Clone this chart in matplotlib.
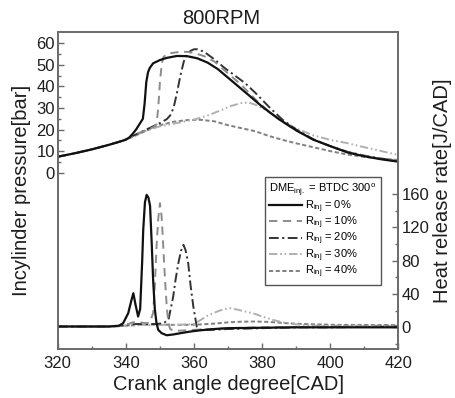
import matplotlib
matplotlib.use("Agg")
import matplotlib.pyplot as plt
from matplotlib.lines import Line2D
from matplotlib.ticker import FixedLocator

plt.rcParams['font.family'] = ['Liberation Sans', 'DejaVu Sans']
plt.rcParams['mathtext.fontset'] = 'custom'
plt.rcParams['mathtext.rm'] = 'Liberation Sans'
plt.rcParams['mathtext.it'] = 'Liberation Sans:italic'
plt.rcParams['lines.scale_dashes'] = False

# ---- in-cylinder pressure [bar] ----
cad_p0 = [320, 325, 330, 335, 338, 340, 341, 342, 343, 344, 345, 345.5, 346, 346.5, 347, 348, 350, 352, 355,
          358, 361, 364, 367, 370, 373, 376, 380, 385, 390, 395, 400, 405, 410, 415, 420]
p0 = [7.4, 9.0, 10.8, 12.9, 14.3, 15.3, 16.3, 18.0, 20.0, 22.5, 25.0, 32.0, 42.0, 46.5, 48.5, 50.7, 52.2, 53.2,
      54.1, 54.0, 53.0, 51.0, 48.0, 44.0, 40.0, 36.0, 30.6, 24.7, 19.6, 15.3, 12.3, 9.4, 7.6, 6.2, 5.1]

cad_p1 = [320, 325, 330, 335, 338, 340, 342, 344, 346, 348, 349, 349.5, 350, 350.5, 351, 352, 354, 356, 358,
          360, 363, 366, 370, 374, 378, 382, 386, 390, 395, 400, 405, 410, 415, 420]
p1 = [7.4, 9.0, 10.8, 12.9, 14.3, 15.4, 17.0, 18.5, 19.8, 21.0, 22.5, 30.0, 42.0, 50.0, 53.5, 55.0, 55.6, 56.0,
      56.0, 55.5, 54.0, 51.5, 46.0, 40.5, 34.0, 28.3, 23.6, 19.6, 15.3, 12.3, 9.6, 7.8, 6.4, 5.3]

cad_p2 = [320, 325, 330, 335, 338, 340, 342, 344, 346, 348, 350, 352, 353, 354, 355, 356, 357, 358, 359, 360,
          361, 363, 366, 369, 372, 375, 378, 382, 386, 390, 395, 400, 405, 410, 415, 420]
p2 = [7.4, 9.0, 10.8, 12.9, 14.3, 15.4, 17.0, 18.5, 20.0, 21.5, 23.0, 24.8, 26.5, 30.0, 37.0, 45.0, 51.5, 55.0,
      56.5, 57.2, 57.2, 56.0, 52.5, 48.5, 45.0, 41.5, 37.0, 30.5, 24.5, 20.0, 15.5, 12.3, 9.7, 7.9, 6.5, 5.4]

cad_p3 = [320, 325, 330, 335, 338, 340, 343, 346, 350, 355, 360, 364, 368, 371, 374, 376, 378, 380, 383, 386,
          390, 395, 400, 405, 410, 415, 420]
p3 = [7.4, 9.0, 10.8, 12.9, 14.3, 15.3, 17.5, 19.5, 21.5, 23.0, 24.6, 26.5, 29.0, 31.0, 32.3, 32.5, 31.5, 30.0,
      27.0, 23.8, 20.5, 17.3, 15.2, 13.7, 11.8, 10.0, 8.2]

cad_p4 = [320, 325, 330, 335, 338, 340, 343, 346, 350, 354, 358, 362, 366, 370, 374, 378, 382, 386, 390, 395,
          400, 405, 410, 415, 420]
p4 = [7.4, 9.0, 10.8, 12.9, 14.3, 15.3, 17.3, 19.5, 22.0, 23.6, 24.4, 24.5, 23.8, 22.0, 20.6, 19.2, 17.0, 15.2,
      13.6, 11.8, 10.0, 8.4, 7.3, 6.5, 5.9]

# ---- heat release rate [J/CAD] ----
cad_h0 = [320, 325, 330, 335, 338, 339.2, 340.7, 341.6, 342.2, 342.8, 343.6, 344.2, 344.8, 345.1, 345.6, 346.1,
          346.6, 347.1, 347.6, 348.0, 348.5, 349.0, 349.5, 350.5, 352, 354, 356, 359, 362, 366, 370, 380, 390,
          400, 410, 420]
h0 = [1, 1, 1, 1, 2, 5, 17, 32, 41, 28, 13, 22, 80, 117, 150, 159, 156, 146, 100, 57, 22, 5, -3, -7, -9.5, -8.5,
      -7, -5, -3.5, -2, -1, -0.5, 0, 0, 0, 0]

cad_h1 = [320, 325, 330, 335, 338, 340, 342, 344, 346, 347, 348, 348.5, 349, 349.5, 350, 350.5, 351, 351.5, 352,
          352.5, 353, 354, 356, 360, 365, 370, 380, 390, 400, 410, 420]
h1 = [1, 1, 1, 1, 1.5, 3, 6, 6, 5, 6, 17, 50, 97, 130, 149, 133, 95, 57, 25, 5, -2, -4, -4, -3, -2, -1, 0, 0.5,
      1, 1, 1]

cad_h2 = [320, 325, 330, 335, 338, 340, 343, 346, 349, 351, 352.5, 353.9, 354.5, 355.4, 356.2, 356.9, 357.5,
          358.3, 359, 359.8, 360.8, 362, 365, 370, 380, 390, 400, 410, 420]
h2 = [1, 1, 1, 1, 1.5, 3, 4, 4, 4, 5, 9, 37, 55, 77, 92, 99, 93, 77, 50, 25, 1, -3, -3, -2, -1, 0, 0, 0.5, 1]

cad_h3 = [320, 325, 330, 335, 338, 340, 345, 350, 355, 360, 362, 364, 366.8, 368.5, 370.6, 372.5, 375, 377.4,
          380, 383.3, 386, 389, 392, 396, 400, 405, 410, 415, 420]
h3 = [1, 1, 1, 1, 1.5, 2, 3, 3, 3, 4, 9, 14, 19, 21.5, 23, 21.5, 19, 16.8, 13, 8.8, 6, 4, 2.8, 2, 2, 2, 2, 2, 2]

cad_h4 = [320, 325, 330, 335, 338, 340, 345, 350, 353, 358, 362, 366, 370, 374, 378, 382, 387, 392, 397, 402,
          407, 412, 416, 420]
h4 = [1, 1, 1, 1, 1.5, 2, 3, 3.5, 3, 3, 3.5, 4.5, 6, 6.8, 7, 6.5, 5, 4, 3.5, 3, 3, 2.8, 2.8, 2.8]

labels = [r"R$_{\mathrm{inj}}$ = 0%", r"R$_{\mathrm{inj}}$ = 10%", r"R$_{\mathrm{inj}}$ = 20%",
          r"R$_{\mathrm{inj}}$ = 30%", r"R$_{\mathrm{inj}}$ = 40%"]

styles = [
    dict(color='#111111', lw=1.6, ls='-'),
    dict(color='#8c8c8c', lw=1.4, dashes=(6, 4)),
    dict(color='#333333', lw=1.4, dashes=(7, 2.5, 1.5, 2.5)),
    dict(color='#b0b0b0', lw=1.4, dashes=(6, 2, 1.2, 2, 1.2, 2)),
    dict(color='#808080', lw=1.4, dashes=(3, 1.8)),
]

pressure = [(cad_p0, p0), (cad_p1, p1), (cad_p2, p2), (cad_p3, p3), (cad_p4, p4)]
hrr = [(cad_h0, h0), (cad_h1, h1), (cad_h2, h2), (cad_h3, h3), (cad_h4, h4)]

fig = plt.figure(figsize=(4.56, 3.98), dpi=100)
ax1 = fig.add_axes([0.1265, 0.1231, 0.7474, 0.7965])
ax2 = ax1.twinx()

# draw back to front so the solid line sits on top
for i in [4, 3, 2, 1, 0]:
    ax1.plot(pressure[i][0], pressure[i][1], **styles[i])
    ax2.plot(hrr[i][0], hrr[i][1], **styles[i])

ax1.set_xlim(320, 420)
ax1.set_ylim(-81.7, 65.2)
ax2.set_ylim(-26, 354.5)

txt = '#1e1e1e'
spine_c = '#6a6a6a'
for ax in (ax1, ax2):
    for s in ax.spines.values():
        s.set_color(spine_c)
        s.set_linewidth(1.2)

ax1.xaxis.set_major_locator(FixedLocator([320, 340, 360, 380, 400, 420]))
ax1.xaxis.set_minor_locator(FixedLocator([330, 350, 370, 390, 410]))
ax1.yaxis.set_major_locator(FixedLocator([0, 10, 20, 30, 40, 50, 60]))
ax1.yaxis.set_minor_locator(FixedLocator([5, 15, 25, 35, 45, 55]))
ax2.yaxis.set_major_locator(FixedLocator([0, 40, 80, 120, 160]))
ax2.yaxis.set_minor_locator(FixedLocator([-20, 20, 60, 100, 140]))

ax1.tick_params(axis='both', which='both', direction='in', color=spine_c, labelcolor=txt,
                labelsize=12, top=False, right=False)
ax1.tick_params(which='major', length=4, width=1)
ax1.tick_params(which='minor', length=2.5, width=1)
ax1.tick_params(axis='x', pad=5)
ax1.tick_params(axis='y', pad=2)
ax2.tick_params(axis='y', which='both', direction='in', color=spine_c, labelcolor=txt,
                labelsize=12, pad=2)
ax2.tick_params(which='major', length=4, width=1)
ax2.tick_params(which='minor', length=2.5, width=1)

ax1.set_xlabel('Crank angle degree[CAD]', fontsize=14.5, color=txt)
ax1.set_ylabel('Incylinder pressure[bar]', fontsize=14.5, color=txt)
ax2.set_ylabel('Heat release rate[J/CAD]', fontsize=14.5, color=txt)
ax1.xaxis.set_label_coords(0.5, -0.083)
ax1.yaxis.set_label_coords(-0.078, 0.5)
ax2.yaxis.set_label_coords(1.101, 0.5)

fig.text(0.486, 1 - 24 / 398, '800RPM', ha='center', va='baseline', fontsize=14.5, color=txt)

handles = [Line2D([], [], **styles[i]) for i in range(5)]
leg = ax2.legend(handles, labels, title=r"DME$_{\mathrm{inj.}}$ = BTDC 300$^{\mathrm{o}}$",
                 loc='upper left', bbox_to_anchor=(0.608, 0.5426), fontsize=8, title_fontsize=8,
                 frameon=True, fancybox=False, framealpha=1, edgecolor='#555555',
                 handlelength=2.9, handletextpad=0.3, labelspacing=0.0, borderpad=0.4,
                 borderaxespad=0, alignment='left')
leg.get_frame().set_linewidth(1.0)

fig.savefig('out.png', dpi=100)
